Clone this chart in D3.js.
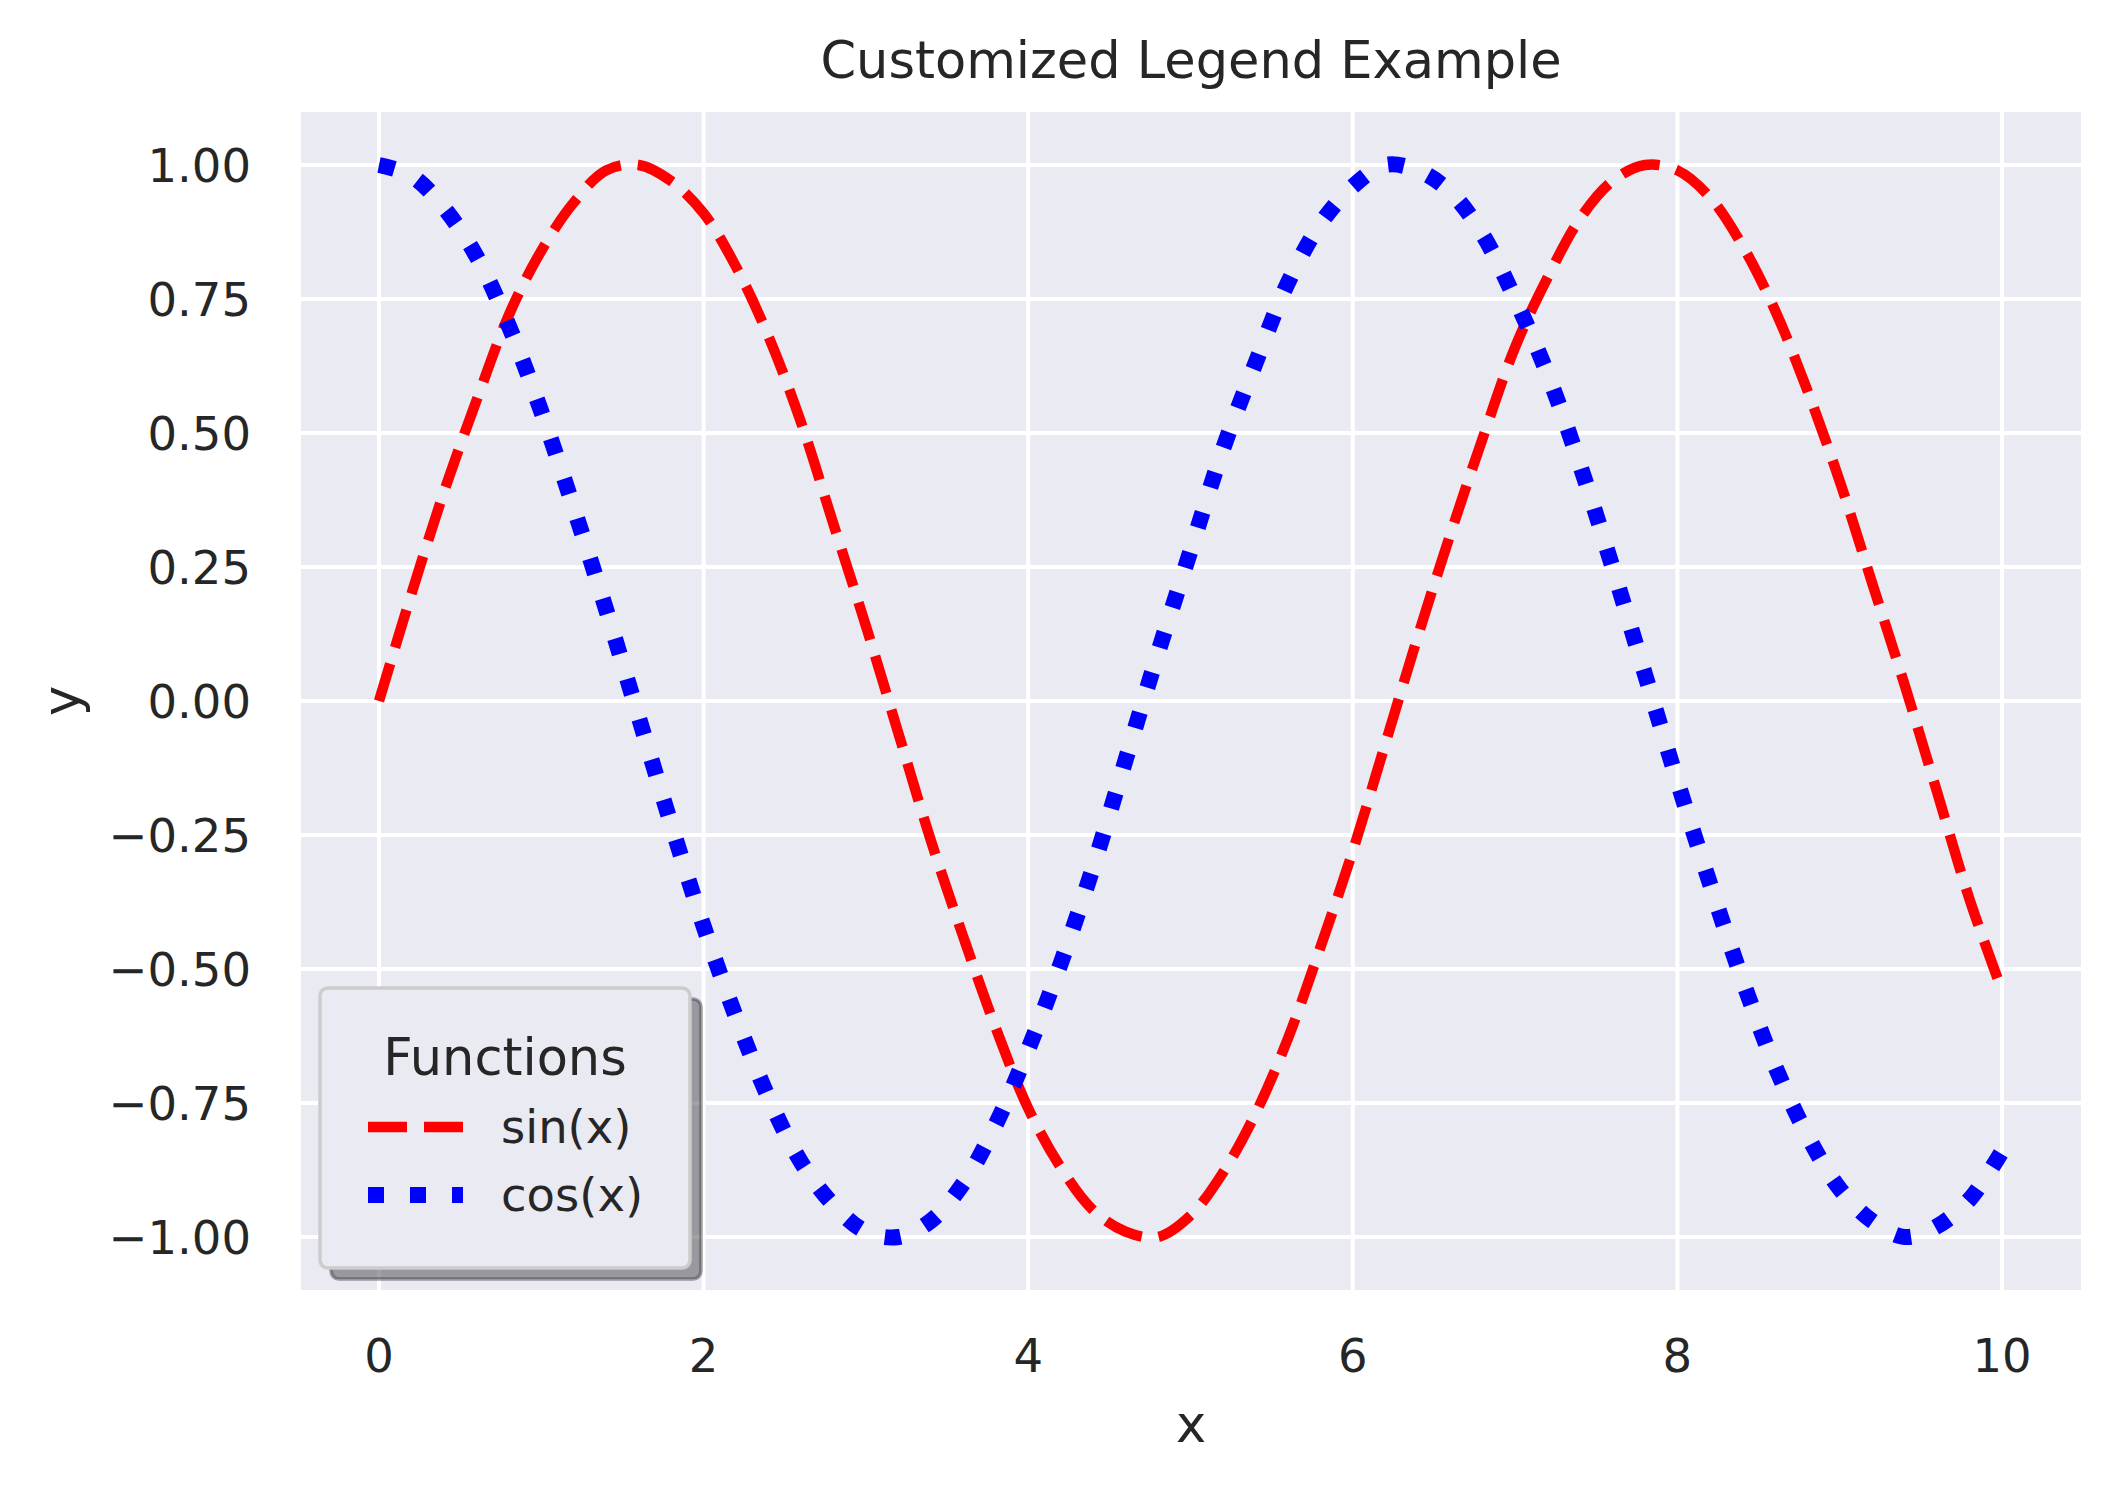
<!DOCTYPE html>
<html>
<head>
<meta charset="utf-8">
<script src="https://cdn.jsdelivr.net/npm/d3@7"></script>
<style>
  body { margin: 0; background: #fff; }
  text { font-family: "DejaVu Sans", sans-serif; fill: #262626; }
</style>
</head>
<body>
<svg id="chart" width="2121" height="1491"></svg>
<script>
// values, step 0.2 on x
const xValues = [0, 0.2, 0.4, 0.6, 0.8, 1, 1.2, 1.4, 1.6, 1.8, 2, 2.2, 2.4, 2.6, 2.8, 3, 3.2, 3.4, 3.6, 3.8,
  4, 4.2, 4.4, 4.6, 4.8, 5, 5.2, 5.4, 5.6, 5.8, 6, 6.2, 6.4, 6.6, 6.8, 7, 7.2, 7.4, 7.6, 7.8,
  8, 8.2, 8.4, 8.6, 8.8, 9, 9.2, 9.4, 9.6, 9.8, 10];
const sinValues = [0.00, 0.20, 0.39, 0.56, 0.72, 0.84, 0.93, 0.99, 1.00, 0.97, 0.91, 0.81, 0.68, 0.52, 0.33, 0.14, -0.06, -0.26, -0.44, -0.61,
  -0.76, -0.87, -0.95, -0.99, -1.00, -0.96, -0.88, -0.77, -0.63, -0.46, -0.28, -0.08, 0.12, 0.31, 0.49, 0.66, 0.79, 0.90, 0.97, 1.00,
  0.99, 0.94, 0.85, 0.73, 0.58, 0.41, 0.22, 0.03, -0.17, -0.37, -0.54];
const cosValues = [1.00, 0.98, 0.92, 0.83, 0.70, 0.54, 0.36, 0.17, -0.03, -0.23, -0.42, -0.59, -0.74, -0.86, -0.94, -0.99, -1.00, -0.97, -0.90, -0.79,
  -0.65, -0.49, -0.31, -0.11, 0.09, 0.28, 0.47, 0.63, 0.78, 0.89, 0.96, 1.00, 0.99, 0.95, 0.87, 0.75, 0.61, 0.44, 0.25, 0.05,
  -0.15, -0.34, -0.52, -0.68, -0.81, -0.91, -0.97, -1.00, -0.98, -0.93, -0.84];

const seriesNames = ["sin(x)", "cos(x)"];
const xTicks = [0, 2, 4, 6, 8, 10];
const xTickLabels = ["0", "2", "4", "6", "8", "10"];
const yTicks = [1, 0.75, 0.5, 0.25, 0, -0.25, -0.5, -0.75, -1];
const yTickLabels = ["1.00", "0.75", "0.50", "0.25", "0.00", "\u22120.25", "\u22120.50", "\u22120.75", "\u22121.00"];

const svg = d3.select("#chart");

// plot box
const plot = { left: 301, right: 2081, top: 112, bottom: 1290 };

const x = d3.scaleLinear().domain([0, 10]).range([379, 2002]);
const y = d3.scaleLinear().domain([-1, 1]).range([1237, 165]);

svg.append("rect")
    .attr("x", plot.left)
    .attr("y", plot.top)
    .attr("width", plot.right - plot.left)
    .attr("height", plot.bottom - plot.top)
    .attr("fill", "#eaeaf2");

// grid
svg.append("g").selectAll("line")
    .data(xTicks)
    .join("line")
    .attr("x1", d => x(d)).attr("x2", d => x(d))
    .attr("y1", plot.top).attr("y2", plot.bottom)
    .attr("stroke", "#fff")
    .attr("stroke-width", 4);

svg.append("g").selectAll("line")
    .data(yTicks)
    .join("line")
    .attr("x1", plot.left).attr("x2", plot.right)
    .attr("y1", d => y(d)).attr("y2", d => y(d))
    .attr("stroke", "#fff")
    .attr("stroke-width", 4);

// tick labels
svg.append("g").selectAll("text")
    .data(xTicks)
    .join("text")
    .attr("x", d => x(d))
    .attr("y", 1372)
    .attr("text-anchor", "middle")
    .style("font-size", "46.5px")
    .text((d, i) => xTickLabels[i]);

svg.append("g").selectAll("text")
    .data(yTicks)
    .join("text")
    .attr("x", 251)
    .attr("y", d => y(d) + 17)
    .attr("text-anchor", "end")
    .style("font-size", "46.5px")
    .text((d, i) => yTickLabels[i]);

// lines
const sinData = xValues.map((v, i) => [v, sinValues[i]]);
const cosData = xValues.map((v, i) => [v, cosValues[i]]);

const line = d3.line()
    .x(d => x(d[0]))
    .y(d => y(d[1]))
    .curve(d3.curveCatmullRom);

svg.append("path")
    .datum(sinData)
    .attr("d", line)
    .attr("fill", "none")
    .attr("stroke", "#ff0000")
    .attr("stroke-width", 10.4)
    .attr("stroke-dasharray", "39 17")
    .attr("stroke-linejoin", "round");

svg.append("path")
    .datum(cosData)
    .attr("d", line)
    .attr("fill", "none")
    .attr("stroke", "#0000ff")
    .attr("stroke-width", 16)
    .attr("stroke-dasharray", "16 26")
    .attr("stroke-linejoin", "round");

// title and axis labels
svg.append("text")
    .attr("x", 1191)
    .attr("y", 78)
    .attr("text-anchor", "middle")
    .style("font-size", "51px")
    .text("Customized Legend Example");

svg.append("text")
    .attr("x", 1191)
    .attr("y", 1442)
    .attr("text-anchor", "middle")
    .style("font-size", "51px")
    .text("x");

svg.append("text")
    .attr("transform", "translate(78.5,701) rotate(-90)")
    .attr("text-anchor", "middle")
    .style("font-size", "51px")
    .text("y");

// legend with shadow
const legend = svg.append("g");

legend.append("rect")
    .attr("x", 331).attr("y", 999)
    .attr("width", 370).attr("height", 280)
    .attr("rx", 8)
    .attr("fill", "rgb(70,70,73)")
    .attr("fill-opacity", 0.5)
    .attr("stroke", "rgb(70,70,73)")
    .attr("stroke-opacity", 0.5)
    .attr("stroke-width", 3.5);

legend.append("rect")
    .attr("x", 320).attr("y", 988)
    .attr("width", 370).attr("height", 280)
    .attr("rx", 8)
    .attr("fill", "#eaeaf2")
    .attr("stroke", "#cccccc")
    .attr("stroke-width", 3.5);

legend.append("text")
    .attr("x", 505)
    .attr("y", 1075)
    .attr("text-anchor", "middle")
    .style("font-size", "51px")
    .text("Functions");

const legendStyles = [
  { color: "#ff0000", width: 10.4, dash: "39 17", y: 1127 },
  { color: "#0000ff", width: 16, dash: "16 26", y: 1195 }
];

seriesNames.forEach((name, i) => {
    const s = legendStyles[i];
    legend.append("line")
        .attr("x1", 368).attr("x2", 463)
        .attr("y1", s.y).attr("y2", s.y)
        .attr("stroke", s.color)
        .attr("stroke-width", s.width)
        .attr("stroke-dasharray", s.dash);
    legend.append("text")
        .attr("x", 501)
        .attr("y", s.y + 16)
        .style("font-size", "46.5px")
        .text(name);
});
</script>
</body>
</html>
